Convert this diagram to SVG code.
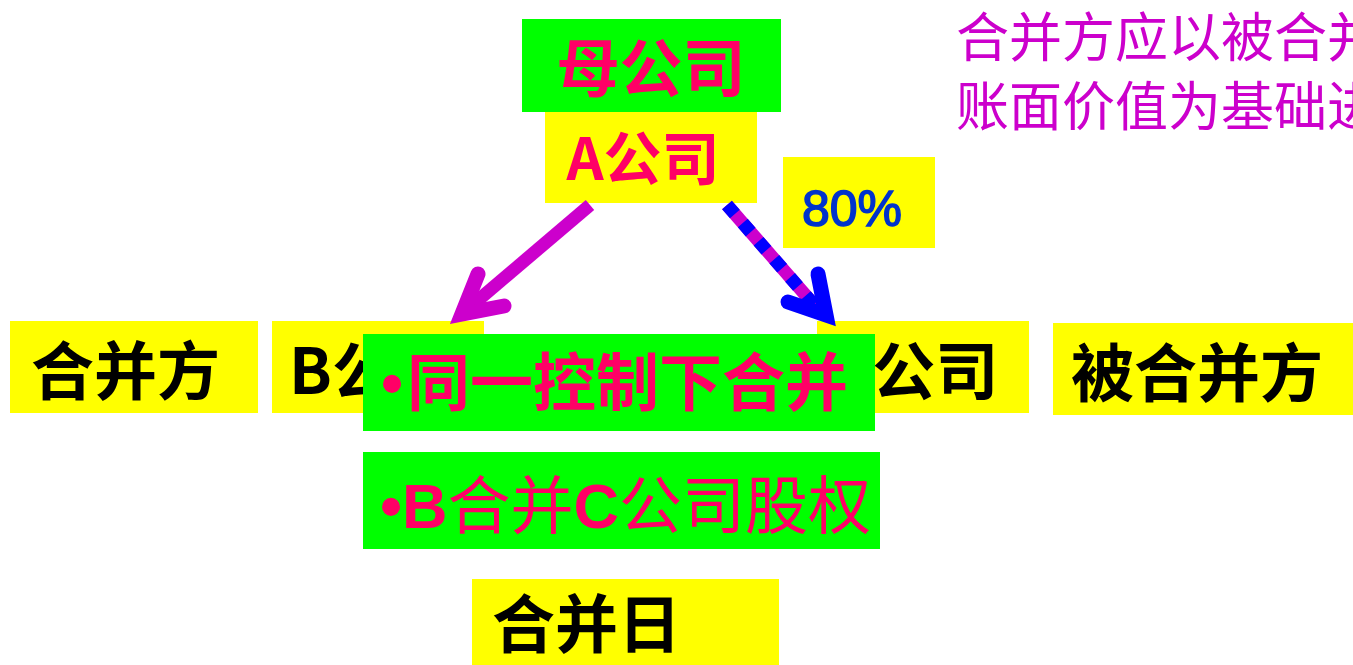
<svg xmlns="http://www.w3.org/2000/svg" width="1353" height="665" viewBox="0 0 1353 665">
<style>
.y{fill:#FFFF00}
.g{fill:#00FF00}
.t{font-family:"Noto Sans CJK SC","Noto Sans",sans-serif;font-weight:bold}
.k{fill:#000000;font-size:63px}
.p{fill:#FF0066}
.s{font-family:"Noto Sans CJK SC","Noto Sans",sans-serif;font-weight:normal}
.l{font-family:"Liberation Sans",Arial,sans-serif;font-weight:bold}
</style>
<rect width="1353" height="665" fill="#FFFFFF"/>
<g id="note">
<text class="s" x="956" y="57" font-size="53" fill="#CC00CC">合并方应以被合并</text>
<text class="s" x="956" y="126" font-size="53" fill="#CC00CC">账面价值为基础进</text>
</g>
<g id="parent">
<rect class="g" x="522" y="19" width="259" height="93"/>
<text class="t p" x="651" y="91" font-size="63" text-anchor="middle">母公司</text>
</g>
<g id="companyA">
<rect class="y" x="545" y="112" width="212" height="91"/>
<text class="t p" x="643" y="180" font-size="58" text-anchor="middle">A公司</text>
</g>
<g id="pct">
<rect class="y" x="783" y="157" width="152" height="91"/>
<text x="802" y="226" font-family="Liberation Sans,Arial,sans-serif" font-size="50" fill="#0033CC" stroke="#0033CC" stroke-width="1.5">80%</text>
</g>
<g id="merger-side">
<rect class="y" x="10" y="321" width="248" height="92"/>
<text class="t k" x="31" y="394">合并方</text>
</g>
<g id="companyB">
<rect class="y" x="272" y="321" width="212" height="92"/>
<text class="t k" x="289" y="394">B公司</text>
</g>
<g id="companyC">
<rect class="y" x="817" y="321" width="212" height="92"/>
<text class="t k" x="831" y="394">C公司</text>
</g>
<g id="merged-side">
<rect class="y" x="1053" y="323" width="300" height="92"/>
<text class="t k" x="1071" y="396">被合并方</text>
</g>
<g id="connectors">
<line x1="590" y1="205" x2="463" y2="313" stroke="#CC00CC" stroke-width="13"/>
<polyline points="478,274 462,314 504,306" fill="none" stroke="#CC00CC" stroke-width="15" stroke-linecap="round" stroke-linejoin="miter"/>
<line x1="727" y1="205" x2="822" y2="314" stroke="#CC00CC" stroke-width="13"/>
<line x1="727" y1="205" x2="822" y2="314" stroke="#0000FF" stroke-width="13" stroke-dasharray="12 12"/>
<polyline points="818,274 826,315 788,302" fill="none" stroke="#0000FF" stroke-width="15" stroke-linecap="round" stroke-linejoin="miter"/>
</g>
<g id="same-control">
<rect class="g" x="363" y="334" width="512" height="97"/>
<text class="p" x="381" y="405" font-size="63"><tspan class="l">•</tspan><tspan class="t" dx="4">同一控制下合并</tspan></text>
</g>
<g id="b-merge-c">
<rect class="g" x="363" y="452" width="517" height="97"/>
<text x="380" y="528" font-size="63" fill="#FF0066"><tspan class="l">•B</tspan><tspan class="s">合并</tspan><tspan class="l">C</tspan><tspan class="s">公司股权</tspan></text>
</g>
<g id="merge-date">
<rect class="y" x="472" y="579" width="307" height="86"/>
<text class="t k" x="492" y="647">合并日</text>
</g>
</svg>
